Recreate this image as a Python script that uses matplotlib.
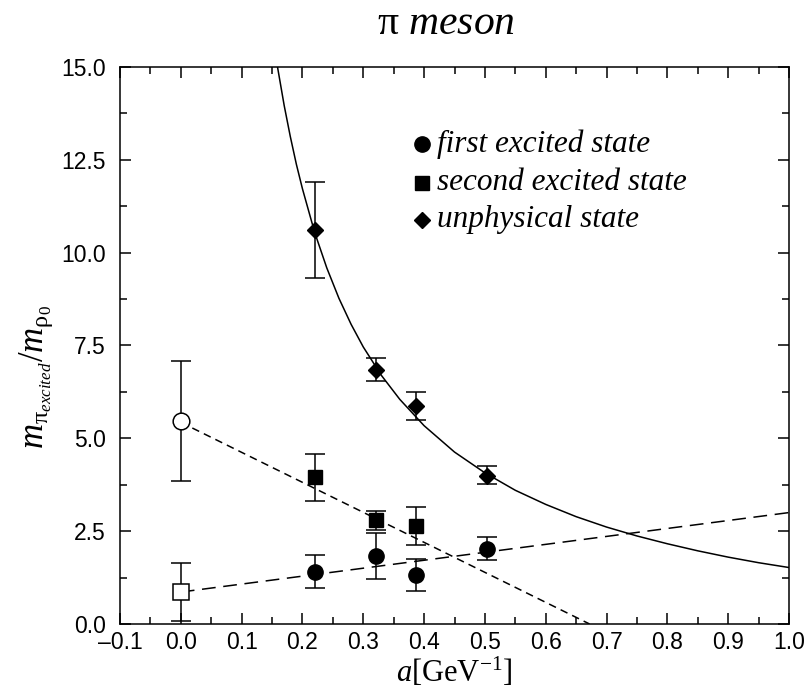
import numpy as np
from matplotlib import pyplot as plt
from matplotlib.ticker import MultipleLocator

# data
a_lat = [0.221, 0.321, 0.387, 0.504]

first_val = [1.41, 1.84, 1.32, 2.03]
first_lo = [0.96, 1.21, 0.88, 1.73]
first_hi = [1.86, 2.46, 1.75, 2.33]

second_x = [0.221, 0.321, 0.387]
second_val = [3.96, 2.80, 2.64]
second_lo = [3.31, 2.54, 2.12]
second_hi = [4.59, 3.03, 3.14]

unphys_val = [10.6, 6.85, 5.87, 3.99]
unphys_lo = [9.33, 6.55, 5.48, 3.76]
unphys_hi = [11.89, 7.15, 6.25, 4.26]

# continuum extrapolations at a=0
cont_first = [0.87, 0.09, 1.65]   # value, lo, hi
cont_second = [5.47, 3.84, 7.08]

# fit lines
lin_first_x = [0.0, 1.0]
lin_first_y = [0.86, 3.0]
lin_second_x = [0.0, 0.672]
lin_second_y = [5.43, 0.0]
curve_x = [0.159, 0.17, 0.18, 0.19, 0.20, 0.22, 0.24, 0.26, 0.28, 0.30, 0.33, 0.36,
           0.40, 0.45, 0.50, 0.55, 0.60, 0.65, 0.70, 0.75, 0.80, 0.85, 0.90, 0.95, 1.00]
curve_y = [15.0, 13.96, 13.13, 12.38, 11.72, 10.55, 9.59, 8.77, 8.07, 7.46, 6.69, 6.05,
           5.34, 4.63, 4.07, 3.60, 3.22, 2.89, 2.61, 2.37, 2.16, 1.97, 1.80, 1.65, 1.52]

leg_t = ['first excited state', 'second excited state', 'unphysical state']
leg_y = [12.93, 11.88, 10.89]

plt.rcParams['font.family'] = 'Liberation Sans'
plt.rcParams['mathtext.fontset'] = 'custom'
plt.rcParams['mathtext.rm'] = 'Liberation Serif'
plt.rcParams['mathtext.it'] = 'Liberation Serif:italic'

def errs(v, lo, hi):
	v = np.array(v); return [v - np.array(lo), np.array(hi) - v]

fig = plt.figure(figsize=(8.08, 6.9), dpi=100)
ax = fig.add_axes([0.1485, 0.0957, 0.8280, 0.8072])

ax.plot(curve_x, curve_y, color='k', lw=1.1, zorder=2)
ax.plot(lin_first_x, lin_first_y, color='k', lw=1.1, dashes=(9, 5), zorder=2)
ax.plot(lin_second_x, lin_second_y, color='k', lw=1.1, dashes=(5, 3.4), zorder=2)

ekw = dict(ecolor='k', elinewidth=1.1, capsize=7, capthick=1.1, ls='none', zorder=3)
ax.errorbar(a_lat, first_val, yerr=errs(first_val, first_lo, first_hi), marker='o', ms=11, mfc='k', mec='k', **ekw)
ax.errorbar(second_x, second_val, yerr=errs(second_val, second_lo, second_hi), marker='s', ms=10, mfc='k', mec='k', **ekw)
ax.errorbar(a_lat, unphys_val, yerr=errs(unphys_val, unphys_lo, unphys_hi), marker='D', ms=8.5, mfc='k', mec='k', **ekw)
ax.errorbar([0.0], [cont_first[0]], yerr=errs([cont_first[0]], [cont_first[1]], [cont_first[2]]), marker='s', ms=11, mfc='w', mec='k', mew=1.1, **ekw)
ax.errorbar([0.0], [cont_second[0]], yerr=errs([cont_second[0]], [cont_second[1]], [cont_second[2]]), marker='o', ms=12, mfc='w', mec='k', mew=1.1, **ekw)

ax.set_xlim(-0.1, 1.0)
ax.set_ylim(0, 15)
ax.xaxis.set_major_locator(MultipleLocator(0.1))
ax.xaxis.set_minor_locator(MultipleLocator(0.05))
ax.yaxis.set_major_locator(MultipleLocator(2.5))
ax.yaxis.set_minor_locator(MultipleLocator(1.25))
ax.xaxis.set_major_formatter(lambda v, p: ('%.1f' % v).replace('-', '\u2013'))
ax.yaxis.set_major_formatter(lambda v, p: '%.1f' % v)
ax.tick_params(which='both', direction='in', top=True, right=True, labelsize=16.5, width=1.1)
ax.tick_params(which='major', length=8)
ax.tick_params(axis='x', which='major', pad=5)
ax.tick_params(axis='y', which='major', pad=10)
ax.tick_params(which='minor', length=5)
for s in ax.spines.values():
	s.set_linewidth(1.1)

ax.set_xlabel(r'$a$[GeV$^{-1}$]', fontsize=22, family='Liberation Serif', labelpad=1)
ax.set_ylabel(r'$m_{\mathrm{π}_{excited}}/m_{\mathrm{ρ}_0}$', fontsize=25)
ax.yaxis.set_label_coords(-0.097, 0.443)
fig.text(0.552, 0.966, r'π $meson$', fontsize=30, family='Liberation Serif', ha='center', va='center')

# legend
leg_m = ['o', 's', 'D']
leg_ms = [11, 9.5, 8]
for y, m, ms, t in zip(leg_y, leg_m, leg_ms, leg_t):
	ax.plot([0.397], [y], marker=m, ms=ms, color='k', ls='none')
	ax.text(0.421, y, t, fontsize=22.5, family='Liberation Serif', style='italic', va='center')

plt.savefig('out.png', dpi=100)
